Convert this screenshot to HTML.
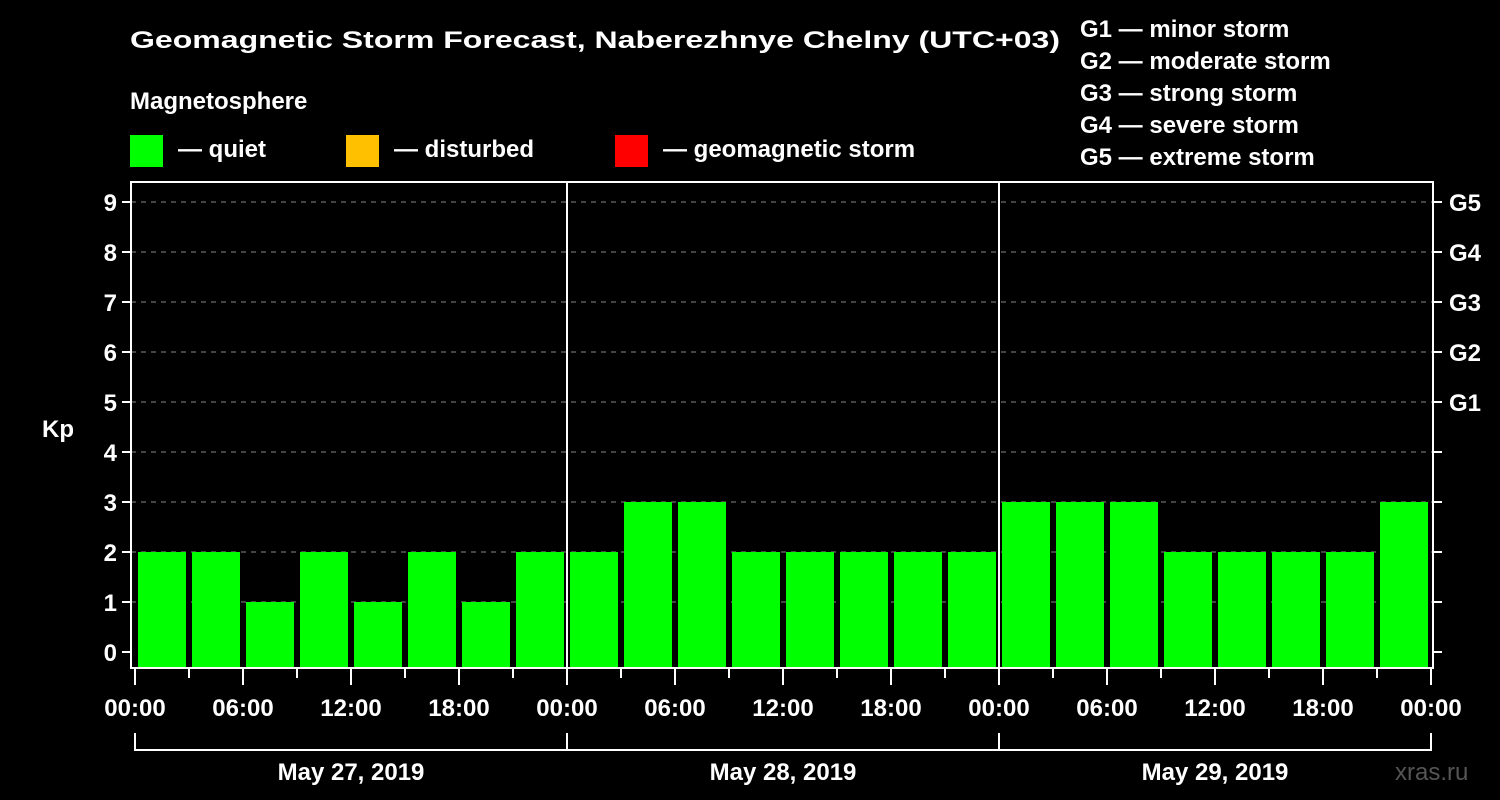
<!DOCTYPE html>
<html><head><meta charset="utf-8"><style>
html,body{margin:0;padding:0;background:#000;}
svg{display:block;font-family:"Liberation Sans",Arial,sans-serif;font-weight:bold;}
</style></head><body>
<svg id="chart" width="1500" height="800" viewBox="0 0 1500 800" xmlns="http://www.w3.org/2000/svg">
<rect width="1500" height="800" fill="#000"/>
<text x="130" y="48" font-size="24" fill="#fff" textLength="930" lengthAdjust="spacingAndGlyphs">Geomagnetic Storm Forecast, Naberezhnye Chelny (UTC+03)</text>
<text x="130" y="109" font-size="24" fill="#fff">Magnetosphere</text>
<g><rect x="130" y="135" width="33" height="32" fill="#00ff00"/><text x="178" y="157" font-size="24" fill="#fff">— quiet</text></g>
<g><rect x="346" y="135" width="33" height="32" fill="#ffc000"/><text x="394" y="157" font-size="24" fill="#fff">— disturbed</text></g>
<g><rect x="615" y="135" width="33" height="32" fill="#ff0000"/><text x="663" y="157" font-size="24" fill="#fff">— geomagnetic storm</text></g>
<g font-size="24" fill="#fff">
<text x="1080" y="37">G1 — minor storm</text>
<text x="1080" y="69">G2 — moderate storm</text>
<text x="1080" y="101">G3 — strong storm</text>
<text x="1080" y="133">G4 — severe storm</text>
<text x="1080" y="165">G5 — extreme storm</text>
</g>
<text x="42" y="437" font-size="24" fill="#fff">Kp</text>
<text x="1395" y="780" font-size="24" fill="#555" font-weight="normal">xras.ru</text>
<g id="plot"></g>
</svg>
<script>
const kpValues = [2,2,1,2,1,2,1,2, 2,3,3,2,2,2,2,2, 3,3,3,2,2,2,2,3];
const yTicks = [0,1,2,3,4,5,6,7,8,9];
const gLabels = ["G1","G2","G3","G4","G5"];
const gLevels = [5,6,7,8,9];
const xTickLabels = ["00:00","06:00","12:00","18:00","00:00","06:00","12:00","18:00","00:00","06:00","12:00","18:00","00:00"];
const dayLabels = ["May 27, 2019","May 28, 2019","May 29, 2019"];

const NS="http://www.w3.org/2000/svg";
const plot=document.getElementById('plot');
const x0=135, pxPerHour=18, y0=652, pxPerKp=50;
const L=131, R=1433, T=182, B=668;
function xScale(h){return x0+h*pxPerHour;}
function yScale(v){return y0-v*pxPerKp;}
function mk(tag,attrs){const e=document.createElementNS(NS,tag);for(const k in attrs)e.setAttribute(k,attrs[k]);plot.appendChild(e);return e;}
function color(v){return v>=5?'#ff0000':(v>=4?'#ffc000':'#00ff00');}

yTicks.forEach(v=>{
  if(v>0){const g=mk('line',{x1:L,x2:R,y1:yScale(v),y2:yScale(v),stroke:'#888','stroke-dasharray':'5,5','stroke-width':1});
  
  }
  const t=mk('line',{x1:L-9,x2:L,y1:yScale(v),y2:yScale(v),stroke:'#fff','stroke-width':2});
  
  
  const t2=mk('line',{x1:R,x2:R+9,y1:yScale(v),y2:yScale(v),stroke:'#fff','stroke-width':2});
  
  
  const lb=mk('text',{x:L-14,y:yScale(v)+9,'font-size':24,fill:'#fff','text-anchor':'end'});
  lb.textContent=v;
  
  
});
gLabels.forEach((g,i)=>{
  const lb=mk('text',{x:R+16,y:yScale(gLevels[i])+9,'font-size':24,fill:'#fff'});
  lb.textContent=g;
  
  
});
kpValues.forEach((v,i)=>{
  const h=i*3;
  const b=mk('rect',{x:xScale(h)+3,y:yScale(v),width:3*pxPerHour-6,height:B-yScale(v),fill:color(v)});
  
  
});
for(let d=1;d<dayLabels.length;d++){
  const s=mk('line',{x1:xScale(d*24),x2:xScale(d*24),y1:T,y2:B,stroke:'#fff','stroke-width':2});
  
  
}
const fr=mk('rect',{x:L,y:T,width:R-L,height:B-T,fill:'none',stroke:'#fff','stroke-width':2});


for(let h=0;h<=72;h+=3){
  const major=h%6===0;
  const t=mk('line',{x1:xScale(h),x2:xScale(h),y1:B,y2:major?B+17:B+10,stroke:'#fff','stroke-width':2});
  
  
}
xTickLabels.forEach((s,i)=>{
  const lb=mk('text',{x:xScale(i*6),y:716,'font-size':24,fill:'#fff','text-anchor':'middle'});
  lb.textContent=s;
  
  
});
dayLabels.forEach((s,d)=>{
  const a=xScale(d*24),b=xScale((d+1)*24);
  const br=mk('path',{d:`M${a},733 V750 H${b} V733`,fill:'none',stroke:'#fff','stroke-width':2});
  
  
  const lb=mk('text',{x:(a+b)/2,y:780,'font-size':24,fill:'#fff','text-anchor':'middle'});
  lb.textContent=s;
  
  
});
</script>
</body></html>
